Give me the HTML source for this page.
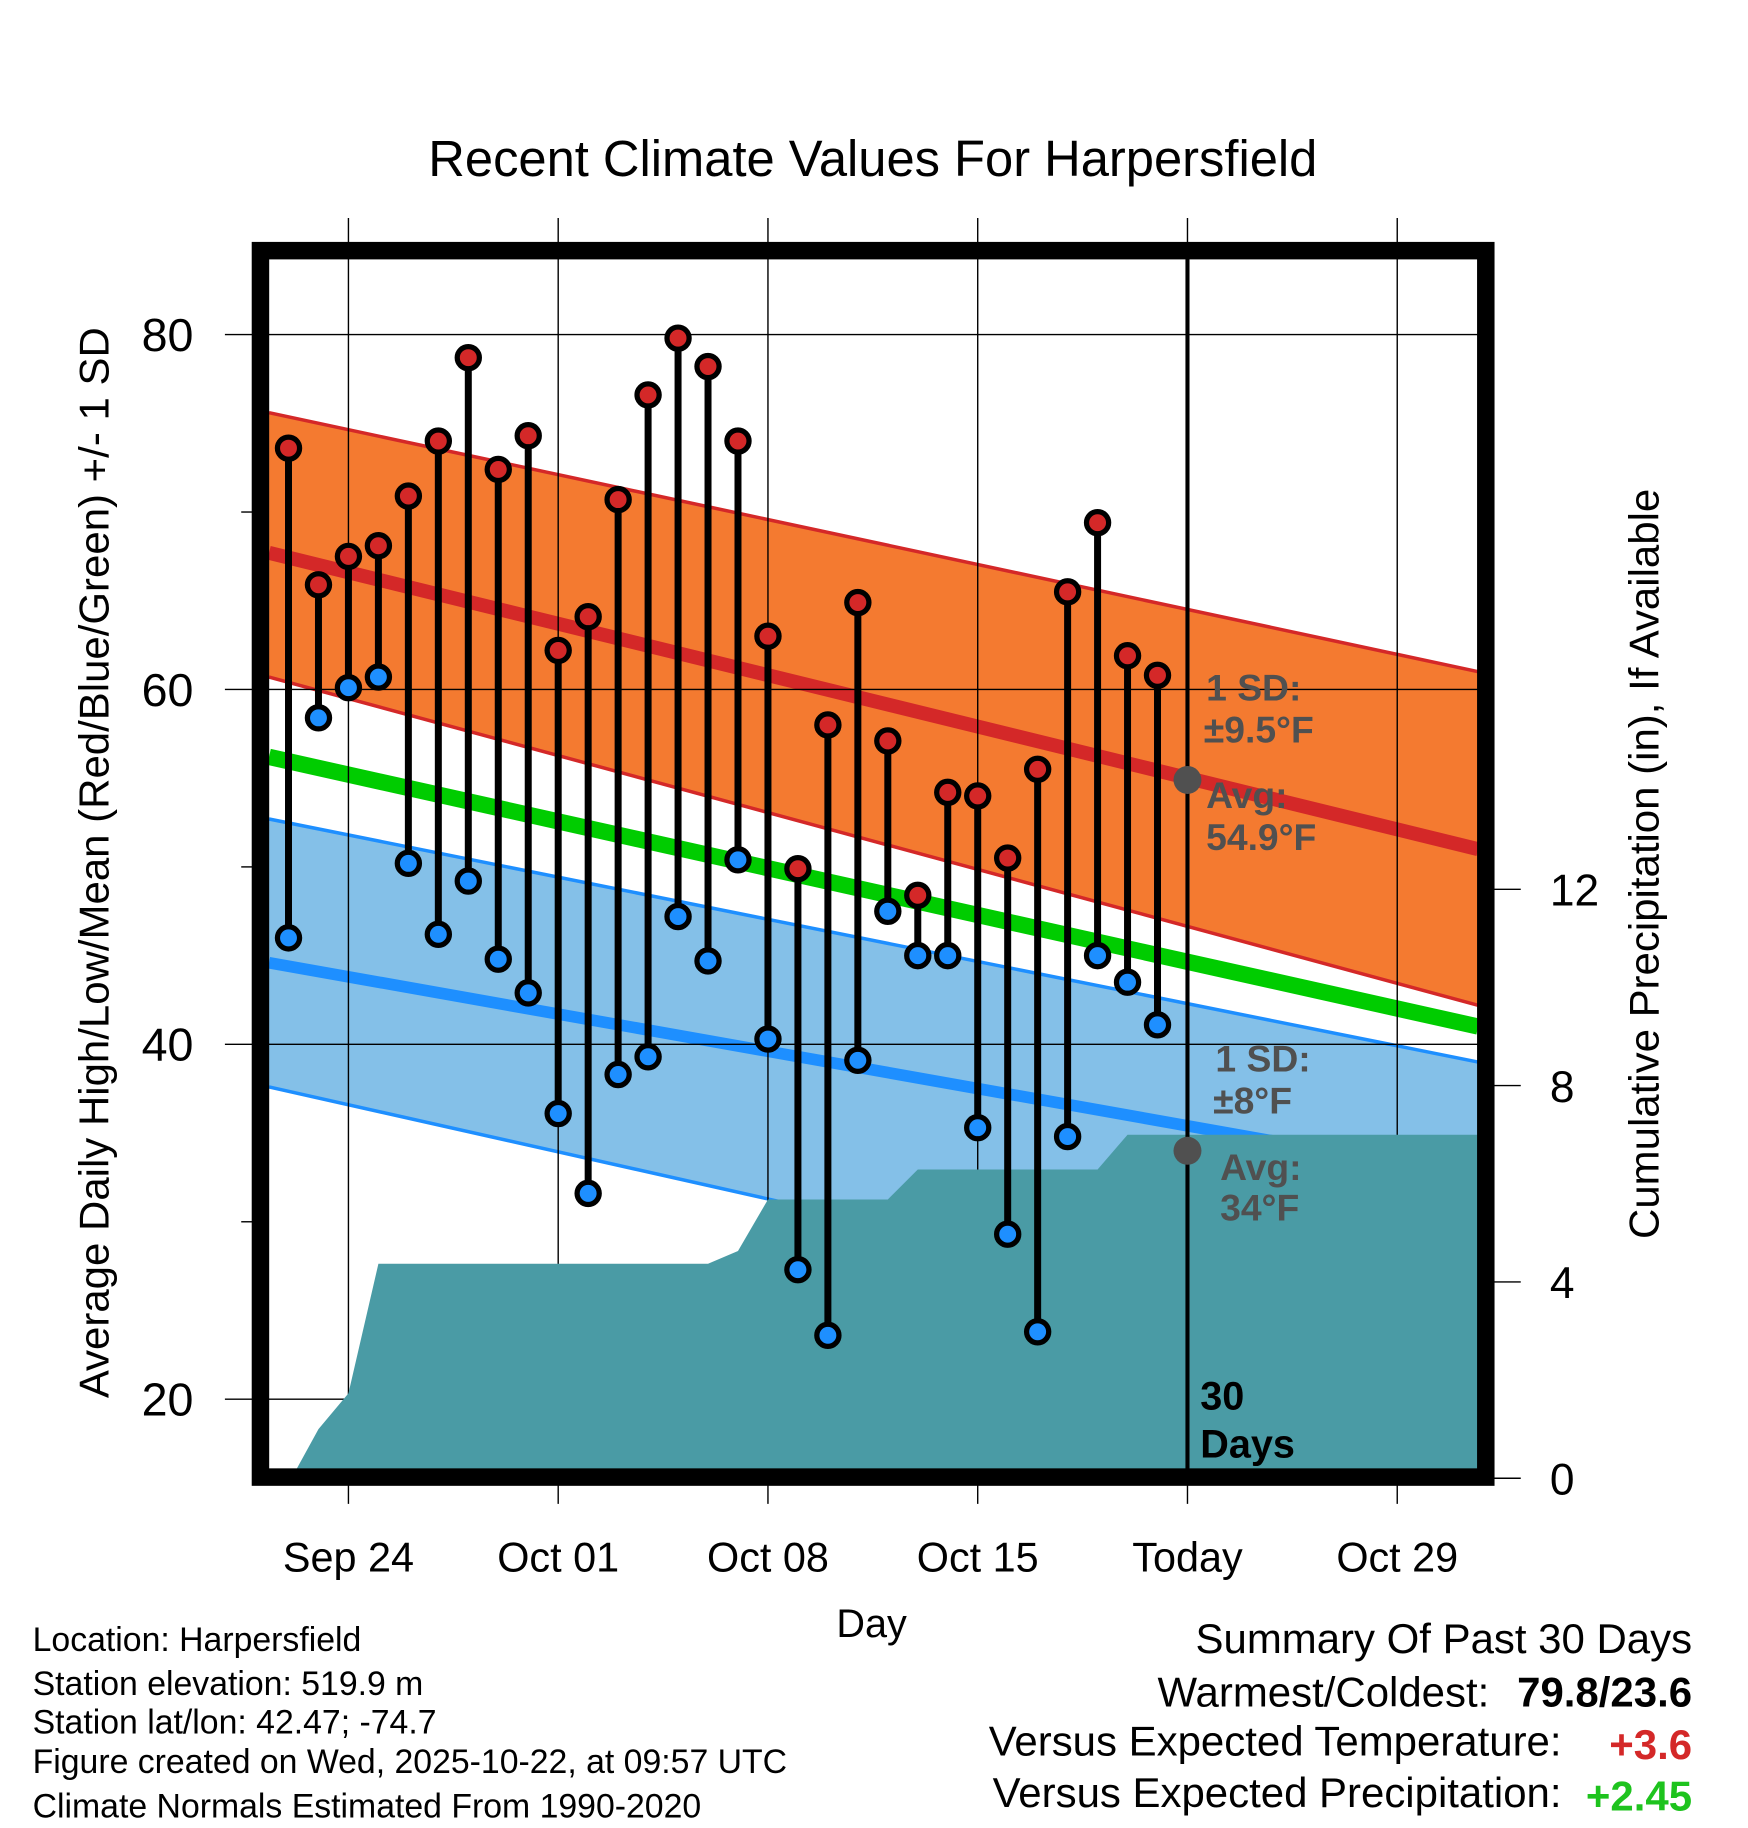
<!DOCTYPE html>
<html><head><meta charset="utf-8">
<style>
html,body{margin:0;padding:0;background:#fff;}
svg{display:block;font-family:"Liberation Sans",Arial,sans-serif;}
</style></head>
<body>
<svg id="chart" width="1748" height="1828" viewBox="0 0 1500 1568" preserveAspectRatio="none" xmlns="http://www.w3.org/2000/svg">
<g id="bands"></g>
<g id="grid"></g>
<g id="precip"></g>
<g id="marks"></g>
<g id="frame"></g>
<text x="749" y="151" font-size="43.5" text-anchor="middle">Recent Climate Values For Harpersfield</text>
<text x="748" y="1404" font-size="34" text-anchor="middle">Day</text>
<text transform="translate(93,740) rotate(-90)" font-size="36" text-anchor="middle">Average Daily High/Low/Mean (Red/Blue/Green) +/- 1 SD</text>
<text transform="translate(1423,741) rotate(-90)" font-size="36" text-anchor="middle">Cumulative Precipitation (in), If Available</text>
<g font-size="29">
<text x="28" y="1416">Location: Harpersfield</text>
<text x="28" y="1454">Station elevation: 519.9 m</text>
<text x="28" y="1487">Station lat/lon: 42.47; -74.7</text>
<text x="28" y="1521">Figure created on Wed, 2025-10-22, at 09:57 UTC</text>
<text x="28" y="1559">Climate Normals Estimated From 1990-2020</text>
</g>
<g font-size="36" text-anchor="end">
<text x="1452" y="1418">Summary Of Past 30 Days</text>
<text x="1278" y="1464">Warmest/Coldest:</text>
<text x="1452" y="1464" font-weight="bold">79.8/23.6</text>
<text x="1340" y="1506">Versus Expected Temperature:</text>
<text x="1452" y="1509" font-weight="bold" fill="#d42828">+3.6</text>
<text x="1340" y="1550">Versus Expected Precipitation:</text>
<text x="1452" y="1553" font-weight="bold" fill="#1ec31e">+2.45</text>
</g>
</svg>
<script>
// ---- data ----
const dayLabels = ["Sep 24","Oct 01","Oct 08","Oct 15","Today","Oct 29"];
const dayLabelPos = [0,7,14,21,28,35];
const days = [-2,-1,0,1,2,3,4,5,6,7,8,9,10,11,12,13,14,15,16,17,18,19,20,21,22,23,24,25,26,27];
const highs = [73.6,65.9,67.5,68.1,70.9,74.0,78.7,72.4,74.3,62.2,64.1,70.7,76.6,79.8,78.2,74.0,63.0,49.9,58.0,64.9,57.1,48.4,54.2,54.0,50.5,55.5,65.5,69.4,61.9,60.8];
const lows = [46.0,58.4,60.1,60.7,50.2,46.2,49.2,44.8,42.9,36.1,31.6,38.3,39.3,47.2,44.7,50.4,40.3,27.3,23.6,39.1,47.5,45.0,45.0,35.3,29.3,23.8,34.8,45.0,43.5,41.1];
const precip = [0,1.0,1.73,4.37,4.37,4.37,4.37,4.37,4.37,4.37,4.37,4.37,4.37,4.37,4.37,4.63,5.68,5.68,5.68,5.68,5.68,6.29,6.29,6.29,6.29,6.29,6.29,6.29,7.0,7.0];
const normDays = [-2.65,37.7];
const normHigh = [67.7,51.0];
const normLow = [44.6,32.5];
const normMean = [56.2,41.0];
const sdHighHi = [75.6,61.0];
const sdHighLo = [60.7,42.2];
const sdLowHi = [52.7,39.0];
const sdLowLo = [37.6,22.3];
const yTicks = [20,40,60,80];
const yMinor = [30,50,70];
const y2Ticks = [0,4,8,12];

// ---- axes ----
const X0=231,X1=1268,Y0=222,Y1=1260;
const xs = d => 299 + d*180/7;
const ys = v => 287 + (80-v)*15.22;
const ys2 = p => 1268 - p*42.1;
const NS="http://www.w3.org/2000/svg";
function mk(parent,tag,attrs){const e=document.createElementNS(NS,tag);for(const k in attrs)e.setAttribute(k,attrs[k]);document.getElementById(parent).appendChild(e);return e;}

// bands
function band(hi,lo,fill,edge,name){
  const p=`${xs(normDays[0])},${ys(hi[0])} ${xs(normDays[1])},${ys(hi[1])} ${xs(normDays[1])},${ys(lo[1])} ${xs(normDays[0])},${ys(lo[0])}`;
  const e=mk('bands','polygon',{points:p,fill:fill});
  
  
  [hi,lo].forEach(a=>{const l=mk('bands','line',{x1:xs(normDays[0]),y1:ys(a[0]),x2:xs(normDays[1]),y2:ys(a[1]),stroke:edge,'stroke-width':3});
  
  });
}
band(sdHighHi,sdHighLo,'#f47a30','#d42828','high-sd-band');
band(sdLowHi,sdLowLo,'#84c0e8','#1e8fff','low-sd-band');
function nline(a,color,w,name){const l=mk('bands','line',{x1:xs(normDays[0]),y1:ys(a[0]),x2:xs(normDays[1]),y2:ys(a[1]),stroke:color,'stroke-width':w});

}
nline(normHigh,'#d42828',12,'normal-high-line');
nline(normMean,'#00cc00',14,'normal-mean-line');
nline(normLow,'#1e8fff',10,'normal-low-line');

// grid
dayLabelPos.forEach((d,i)=>{
  const l=mk('grid','line',{x1:xs(d),y1:187,x2:xs(d),y2:1290,stroke:'#000','stroke-width':1.2});
  
  
  const t=mk('frame','text',{x:xs(d),y:1348,'font-size':35.5,'text-anchor':'middle'});
  t.textContent=dayLabels[i];
  
  
});
yTicks.forEach(v=>{
  const l=mk('grid','line',{x1:193,y1:ys(v),x2:1280,y2:ys(v),stroke:'#000','stroke-width':1.2});
  
  
  const t=mk('frame','text',{x:166,y:ys(v)+14,'font-size':40,'text-anchor':'end'});
  t.textContent=v;
  
  
});
yMinor.forEach(v=>{const l=mk('frame','line',{x1:207,y1:ys(v),x2:218,y2:ys(v),stroke:'#000','stroke-width':1.2});

});
y2Ticks.forEach(v=>{
  const l=mk('frame','line',{x1:1280,y1:ys2(v),x2:1305,y2:ys2(v),stroke:'#000','stroke-width':1.2});
  
  
  const t=mk('frame','text',{x:1330,y:ys2(v)+14,'font-size':38});
  t.textContent=v;
  
  
});

// precip area
let pts=`${xs(days[0])+7},${Y1} `;
days.forEach((d,i)=>{ if(i>0) pts+=`${xs(d)},${ys2(precip[i])} `; });
pts+=`${X1},${ys2(precip[precip.length-1])} ${X1},${Y1}`;
const pa=mk('precip','polygon',{points:pts,fill:'#4a9ba5'});



// today line
const tl=mk('precip','line',{x1:xs(28),y1:Y0,x2:xs(28),y2:Y1,stroke:'#000','stroke-width':3.5});



// stems & markers
days.forEach((d,i)=>{
  const s=mk('marks','line',{x1:xs(d),y1:ys(highs[i]),x2:xs(d),y2:ys(lows[i]),stroke:'#000','stroke-width':6});
  
  
});
days.forEach((d,i)=>{
  const h=mk('marks','circle',{cx:xs(d),cy:ys(highs[i]),r:9.5,fill:'#d42828',stroke:'#000','stroke-width':4.5});
  
  
  const l=mk('marks','circle',{cx:xs(d),cy:ys(lows[i]),r:9.5,fill:'#1e8fff',stroke:'#000','stroke-width':4.5});
  
  
});

// today normal dots
const tdx=xs(28);
[[54.9,'avg-high-dot'],[34,'avg-low-dot']].forEach(a=>{
  const c=mk('marks','circle',{cx:tdx,cy:ys(a[0]),r:12,fill:'#505050'});
  
  
});
// annotations
[["1 SD:",1035,601],["±9.5°F",1033,637],["Avg:",1035,693],["54.9°F",1035,729],["1 SD:",1043,919],["±8°F",1041,955],["Avg:",1047,1012],["34°F",1047,1047]].forEach(a=>{
  const t=mk('marks','text',{x:a[1],y:a[2],'font-size':32,'font-weight':'bold',fill:'#505050'});
  t.textContent=a[0];
  
  
});
[["30",1030,1209],["Days",1030,1250]].forEach(a=>{
  const t=mk('marks','text',{x:a[1],y:a[2],'font-size':34,'font-weight':'bold',fill:'#000'});
  t.textContent=a[0];
  
  
});

// frame
const fr=mk('frame','rect',{x:223.5,y:215,width:1051.5,height:1052,fill:'none',stroke:'#000','stroke-width':15});


</script>
</body></html>
